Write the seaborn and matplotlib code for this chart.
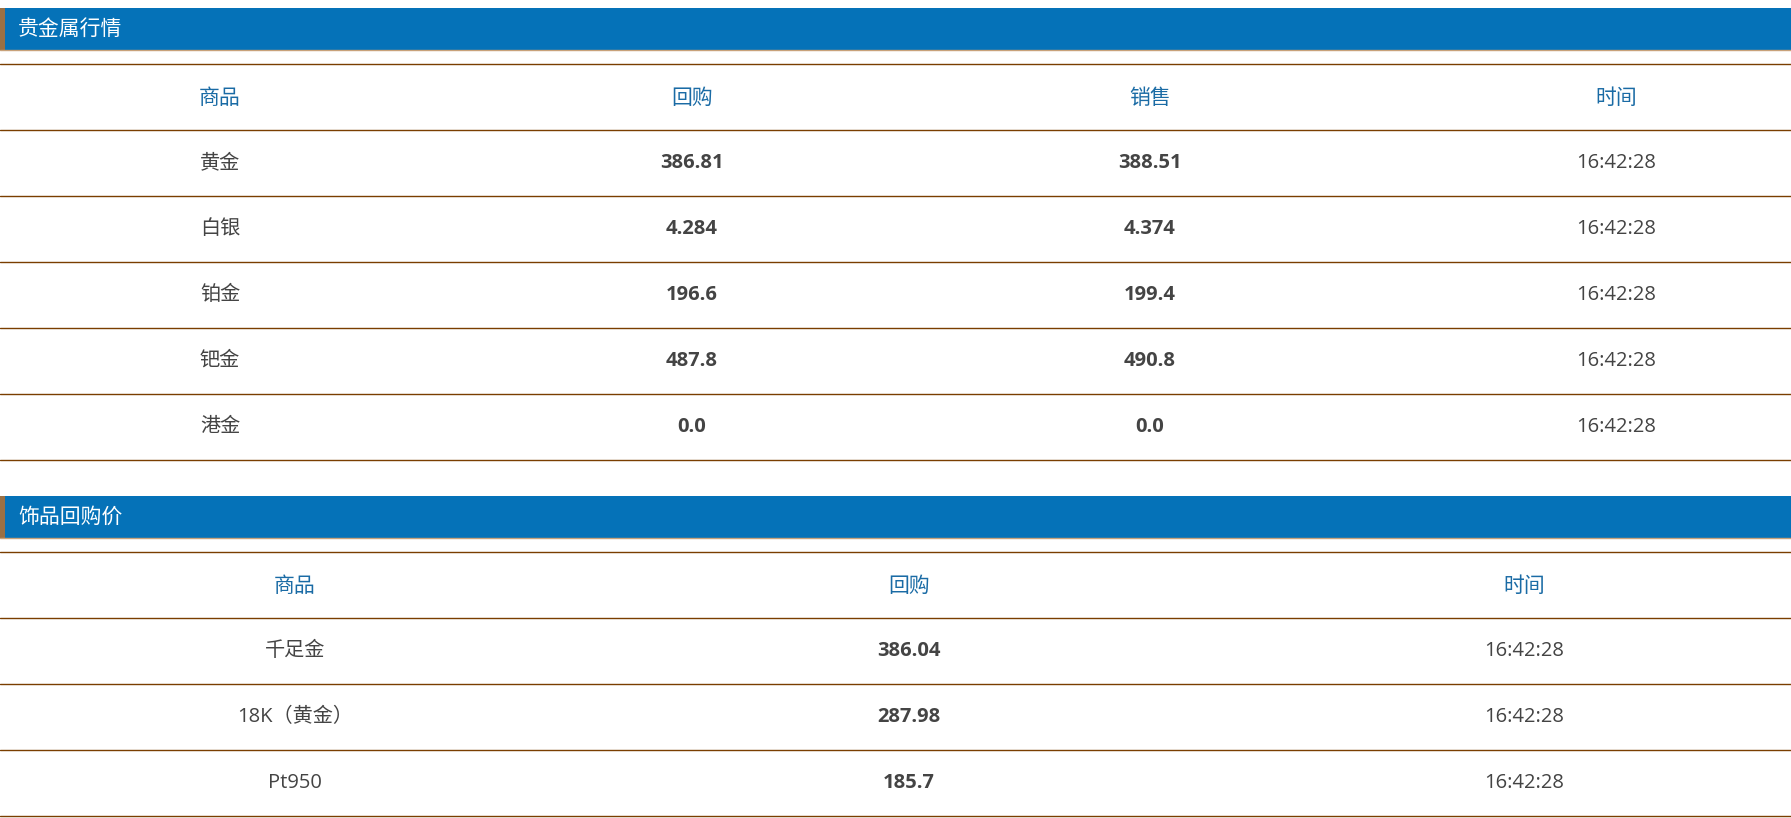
import matplotlib
matplotlib.use("Agg")
import matplotlib.pyplot as plt
import seaborn as sns

# table 1: precious metals
metal_title = "贵金属行情"
metal_cols = ["商品", "回购", "销售", "时间"]
metal_names = ["黄金", "白银", "铂金", "钯金", "港金"]
metal_buy = ["386.81", "4.284", "196.6", "487.8", "0.0"]
metal_sell = ["388.51", "4.374", "199.4", "490.8", "0.0"]
metal_time = ["16:42:28"] * 5

# table 2: jewellery buyback
jew_title = "饰品回购价"
jew_cols = ["商品", "回购", "时间"]
jew_names = ["千足金", "18K（黄金）", "Pt950"]
jew_buy = ["386.04", "287.98", "185.7"]
jew_time = ["16:42:28"] * 3

sns.set_theme(style="white")
plt.rcParams["font.family"] = ["Open Sans", "Noto Sans CJK SC", "DejaVu Sans"]

W, H = 1791, 818
BLUE = "#0572B8"
LINE = "#7A3E00"
HEAD = "#1A6BA5"
BODY = "#444444"

fig = plt.figure(figsize=(W / 100, H / 100), dpi=100)
ax = fig.add_axes([0, 0, 1, 1])
ax.set_xlim(0, W)
ax.set_ylim(H, 0)
ax.axis("off")


def draw_table(top, title, cols, centers, rows, bold_cols):
    # title bar
    ax.add_patch(plt.Rectangle((0, top), W, 42, color=BLUE, lw=0))
    ax.add_patch(plt.Rectangle((0, top), 5, 42, color="#9A7044", lw=0))
    ax.plot([0, W], [top + 42, top + 42], color="#C8A27A", lw=1)
    ax.text(18, top + 21, title, color="white", fontsize=15, va="center")
    y0 = top + 56
    ax.plot([0, W], [y0, y0], color=LINE, lw=1)
    for c, x in zip(cols, centers):
        ax.text(x, y0 + 34, c, color=HEAD, fontsize=15, ha="center", va="center")
    y = y0 + 66
    ax.plot([0, W], [y, y], color=LINE, lw=1)
    for row in zip(*rows):
        for j, (v, x) in enumerate(zip(row, centers)):
            ax.text(x, y + 33, v, color=BODY, fontsize=14.5, ha="center", va="center",
                    fontweight="bold" if j in bold_cols else "normal")
        y += 66
        ax.plot([0, W], [y, y], color=LINE, lw=1)
    return y


end = draw_table(8, metal_title, metal_cols, [220, 692, 1150, 1616],
                 [metal_names, metal_buy, metal_sell, metal_time], {1, 2})
draw_table(496, jew_title, jew_cols, [295, 909, 1524],
           [jew_names, jew_buy, jew_time], {1})

fig.savefig("out.png", dpi=100)
